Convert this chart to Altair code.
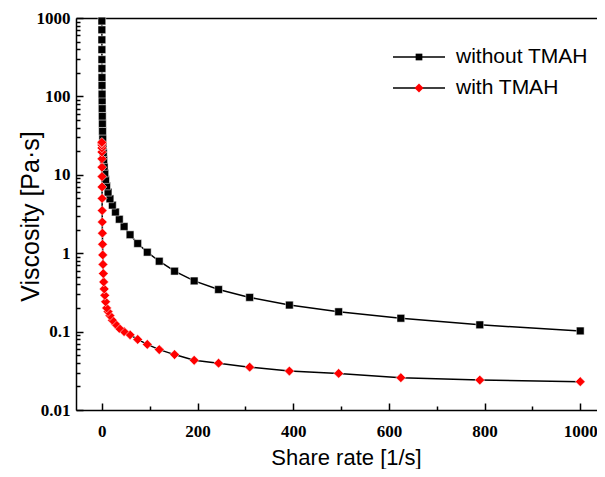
import altair as alt
import pandas as pd

# Shear rate [1/s]
shear = [1000, 790, 625, 495, 392, 309, 244, 193, 152, 120, 95, 75, 59, 46.5, 36.5,
         28.5, 22, 17, 13, 10, 7.9, 6.2, 4.9, 3.9, 3.1, 2.4, 1.9, 1.5, 1.2, 0.95,
         0.75, 0.6, 0.47, 0.37, 0.29, 0.23, 0.18, 0.14, 0.11, 0.09, 0.07]

# Viscosity [Pa·s]
visc_without = [0.102, 0.122, 0.148, 0.179, 0.218, 0.273, 0.344, 0.443, 0.59, 0.79,
                1.03, 1.33, 1.72, 2.19, 2.71, 3.35, 4.1, 4.94, 6.0, 7.2,
                8.7, 10.5, 12.8, 15.6, 19.2, 23.5, 29, 36, 45, 56,
                70, 88, 107, 138, 174, 227, 295, 395, 527, 707, 915]
visc_with = [0.023, 0.0241, 0.0258, 0.0293, 0.0314, 0.0352, 0.0395, 0.0431, 0.0509, 0.0589,
             0.0687, 0.0794, 0.091, 0.1, 0.11, 0.125, 0.14, 0.16, 0.18, 0.2,
             0.24, 0.29, 0.35, 0.43, 0.55, 0.72, 0.95, 1.3, 1.8, 2.5,
             3.5, 5, 7, 9.5, 12.5, 16, 19.5, 22, 24, 25.5, 26]

series_names = ["without TMAH", "with TMAH"]
x_major = [0, 200, 400, 600, 800, 1000]
x_minor = [100, 300, 500, 700, 900]
y_major = [0.01, 0.1, 1, 10, 100, 1000]
y_minor = [m * d for d in [0.01, 0.1, 1, 10, 100] for m in range(2, 10)]

W, H = 521, 392

df = pd.concat([
    pd.DataFrame({"shear": shear, "visc": visc_without, "series": series_names[0]}),
    pd.DataFrame({"shear": shear, "visc": visc_with, "series": series_names[1]}),
])
df_wo = df[df.series == series_names[0]]
df_w = df[df.series == series_names[1]]

xscale = alt.Scale(domain=[-54, 1035], nice=False, zero=False)
yscale = alt.Scale(type="log", domain=[0.01, 1000], nice=False)

lab = dict(labelFont="Liberation Serif", labelFontWeight="bold", labelFontSize=17,
           labelColor="black", titleFont="Liberation Sans", titleFontWeight="normal",
           titleColor="black", domainColor="black", domainWidth=1.5, grid=False,
           ticks=False)

xaxis = alt.Axis(orient="bottom", values=x_major, format="d", labelPadding=13,
                 title="Share rate [1/s]", titleFontSize=22, titleX=270, titleY=54,
                 titleAlign="center", titleBaseline="alphabetic", **lab)
yaxis = alt.Axis(orient="left", values=y_major, format="~g", labelPadding=6,
                 title="Viscosity [Pa·s]", titleFontSize=25, titleX=-46, titleY=198,
                 titleAngle=270, titleAlign="center", titleBaseline="middle", **lab)

X = alt.X("shear:Q", scale=xscale, axis=xaxis)
Y = alt.Y("visc:Q", scale=yscale, axis=yaxis)

lines = alt.Chart(df).mark_line(color="black", strokeWidth=1.5).encode(
    x=X, y=Y, detail="series:N", order="shear:Q")
pts_wo = alt.Chart(df_wo).mark_point(shape="square", filled=True, size=60, color="black",
                                     stroke="white", strokeWidth=0.5, opacity=1).encode(x=X, y=Y)
pts_w = alt.Chart(df_w).mark_point(shape="diamond", filled=True, size=95, color="#ff0000",
                                   stroke="white", strokeWidth=0.5, opacity=1).encode(x=X, y=Y)
main = alt.layer(lines, pts_wo, pts_w)


def tick_axis(orient, offset, values, size):
    return alt.Axis(orient=orient, offset=offset, values=values, tickSize=size,
                    tickWidth=1.5, tickColor="black", ticks=True, labels=False,
                    domain=False, grid=False, title=None)


# inward ticks: extra axes moved inside the plot
ymaj = alt.Chart(pd.DataFrame({"visc": y_major})).mark_point(opacity=0).encode(
    y=alt.Y("visc:Q", scale=yscale, axis=tick_axis("right", -W, y_major, 7)))
ymin = alt.Chart(pd.DataFrame({"visc": y_minor})).mark_point(opacity=0).encode(
    y=alt.Y("visc:Q", scale=yscale, axis=tick_axis("right", -W, y_minor, 4)))
xmaj = alt.Chart(pd.DataFrame({"shear": x_major})).mark_point(opacity=0).encode(
    x=alt.X("shear:Q", scale=xscale, axis=tick_axis("top", -H, x_major, 7)))
xmin = alt.Chart(pd.DataFrame({"shear": x_minor})).mark_point(opacity=0).encode(
    x=alt.X("shear:Q", scale=xscale, axis=tick_axis("top", -H, x_minor, 4)))
topb = alt.Chart(pd.DataFrame({"shear": x_major})).mark_point(opacity=0).encode(
    x=alt.X("shear:Q", scale=xscale,
            axis=alt.Axis(orient="top", values=x_major, ticks=False, labels=False,
                          domain=True, domainColor="black", domainWidth=1.5,
                          grid=False, title=None)))

# legend
one = pd.DataFrame({"a": [0]})
leg = []
for name, yy, shape, col, sz in [(series_names[0], 39, "square", "black", 45),
                                  (series_names[1], 70, "diamond", "#ff0000", 80)]:
    leg.append(alt.Chart(one).mark_rule(color="black", strokeWidth=1.5).encode(
        x=alt.value(317), x2=alt.value(369), y=alt.value(yy)))
    leg.append(alt.Chart(one).mark_point(shape=shape, filled=True, size=sz, color=col,
                                         opacity=1).encode(x=alt.value(343), y=alt.value(yy)))
    leg.append(alt.Chart(one).mark_text(align="left", baseline="middle", font="Liberation Sans",
                                        fontSize=21, color="black").encode(
        x=alt.value(380), y=alt.value(yy), text=alt.value(name)))

chart = alt.layer(main, ymaj, ymin, xmaj, xmin, topb, *leg).resolve_axis(
    x="independent", y="independent").properties(
    width=W, height=H,
    autosize=alt.AutoSizeParams(type="none"),
    padding={"left": 68, "top": 10, "right": 0, "bottom": 59},
).configure_view(stroke=None)

chart.save("out.html", embed_options={"renderer": "svg", "actions": False})
